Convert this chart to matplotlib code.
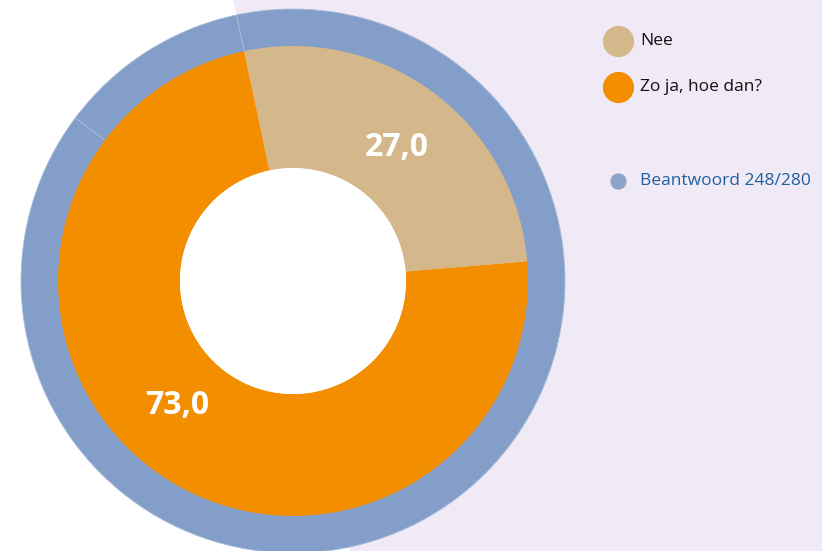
import matplotlib.pyplot as plt
from matplotlib.patches import Wedge, Circle

# data
labels = ['Nee', 'Zo ja, hoe dan?']
values = [27.0, 73.0]
colors = ['#D4B88C', '#F28E00']
answered = 248
total = 280

ring_color = '#839FC9'
bg_color = '#F0EAF6'

W, H = 822, 551
cx, cy = 293, H - 281

fig = plt.figure(figsize=(W / 100, H / 100), dpi=100)
ax = fig.add_axes([0, 0, 1, 1])

# lavender half plane behind the chart
ax.add_patch(Wedge((cx, cy), 3000, -78, 102, facecolor=bg_color, edgecolor='none', zorder=0))

# outer ring: answered / not answered
ax.pie([answered, total - answered], colors=[ring_color, ring_color], startangle=102,
       counterclock=False, radius=272, center=(cx, cy),
       wedgeprops=dict(width=38, edgecolor='#A9BCDA', linewidth=0.6))

# inner donut
wedges, _, autotexts = ax.pie(values, colors=colors, startangle=102, counterclock=False,
                              radius=235, center=(cx, cy), autopct=lambda p: f'{p:.1f}'.replace('.', ','),
                              pctdistance=0.72, wedgeprops=dict(width=122, edgecolor='none'),
                              textprops=dict(color='white', fontsize=23, fontweight='bold',
                                             family='Open Sans'))
# label spots as in the original
autotexts[0].set_position((cx + 104, cy + 133))
autotexts[1].set_position((cx - 116, cy - 124))
ax.add_patch(Circle((cx, cy), 113, facecolor='white', edgecolor='none', zorder=5))

# legend
leg_y = [H - 41, H - 87]
for lab, col, y in zip(labels, colors, leg_y):
    ax.scatter([618], [y], s=460, color=col, zorder=6)
    ax.text(640, y, lab, fontsize=12.5, family='Open Sans', color='#111111', va='center')
ax.scatter([618], [H - 181], s=115, color='#8DA3CA', zorder=6)
ax.text(640, H - 181, f'Beantwoord {answered}/{total}', fontsize=12.5, family='Open Sans',
        color='#1F5F9E', va='center')

ax.set_xlim(0, W)
ax.set_ylim(0, H)
ax.set_aspect('equal')
ax.axis('off')

fig.savefig('out.png', dpi=100, facecolor='white')
